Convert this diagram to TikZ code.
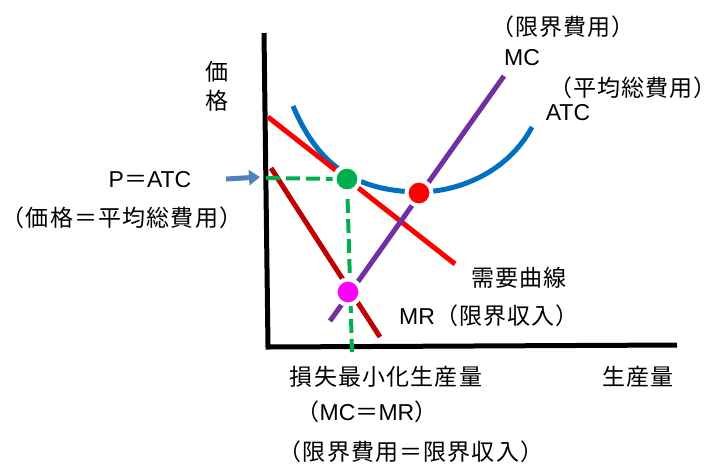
\documentclass[tikz,border=0pt]{standalone}
\usepackage{fontspec}
\setmainfont[LetterSpace=5]{Noto Sans CJK JP}
\newfontfamily\latin{Liberation Sans}
\usetikzlibrary{arrows.meta}
\definecolor{mcpurple}{RGB}{112,48,160}
\definecolor{atcblue}{RGB}{0,112,192}
\definecolor{dred}{RGB}{255,0,0}
\definecolor{mrred}{RGB}{192,0,0}
\definecolor{eqgreen}{RGB}{0,176,80}
\definecolor{arrowblue}{RGB}{79,129,189}
\definecolor{dotmag}{RGB}{255,0,255}
\tikzset{
  lbl/.style={inner sep=0pt, font=\fontsize{23}{27}\selectfont},
  curve/.style={line width=5pt},
  guide/.style={line width=4pt, color=eqgreen, dash pattern=on 14pt off 6pt},
  dot/.style={circle, draw=white, line width=4pt, minimum size=25pt, inner sep=0pt}
}
\begin{document}
\begin{tikzpicture}[x=1pt,y=-1pt]
\useasboundingbox (0,0) rectangle (721,467);
% coordinates
\coordinate (ytop) at (264,33);
\coordinate (origin) at (268,347);
\coordinate (xend) at (677,345);
\coordinate (dA) at (268,117);
\coordinate (dB) at (455,264);
\coordinate (mrA) at (271,168);
\coordinate (mrB) at (380,337);
\coordinate (mcA) at (504,76);
\coordinate (mcB) at (330,321);
\coordinate (atcA) at (293,106);
\coordinate (atcM) at (415,192);
\coordinate (atcB) at (532,127);
\coordinate (pAxis) at (266,178);
\coordinate (qAxis) at (352,352);
\coordinate (arS) at (226,179);
\coordinate (arE) at (260,177);
% axes
\draw[line width=5pt, line join=miter] (ytop) -- (origin) -- (xend);
% curves
\draw[curve, color=atcblue] (atcA) .. controls (320,170) and (360,190) .. (atcM)
  .. controls (458,193) and (508,172) .. (atcB);
\draw[curve, color=dred] (dA) -- (dB);
\draw[curve, color=mrred] (mrA) -- (mrB);
\draw[curve, color=mcpurple] (mcA) -- (mcB);
% dots
\node[dot, fill=eqgreen] (E) at (347,179) {};
\node[dot, fill=dred] (R) at (419,193) {};
\node[dot, fill=dotmag] (M) at (348,292) {};
% guides
\draw[guide] (pAxis) -- (E.center);
\draw[guide] (E.center) -- (qAxis);
\node[dot, fill=eqgreen] at (E) {};
\node[dot, fill=dotmag] at (M) {};
% arrow
\draw[line width=5pt, color=arrowblue, -{Triangle[length=11pt,width=15pt]}] (arS) -- (arE);
% labels
\node[lbl] (price1) at (217,72) {価};
\node[lbl] (price2) at (217,101) {格};
\node[lbl] (patc) at (150,180) {{\latin P}＝{\latin ATC}};
\node[lbl] (patcj) at (122,218) {（価格＝平均総費用）};
\node[lbl] (mcj) at (563,27) {（限界費用）};
\node[lbl] (mc) at (522,58) {\latin MC};
\node[lbl] (atcj) at (633,88) {（平均総費用）};
\node[lbl] (atc) at (568,113) {\latin ATC};
\node[lbl] (dem) at (519,278) {需要曲線};
\node[lbl] (mr) at (489,316) {{\latin MR}（限界収入）};
\node[lbl] (qmin) at (386,377) {損失最小化生産量};
\node[lbl] (qcond) at (367,412) {（{\latin MC}＝{\latin MR}）};
\node[lbl] (qcondj) at (411,452) {（限界費用＝限界収入）};
\node[lbl] (qty) at (638,377) {生産量};
\end{tikzpicture}
\end{document}
